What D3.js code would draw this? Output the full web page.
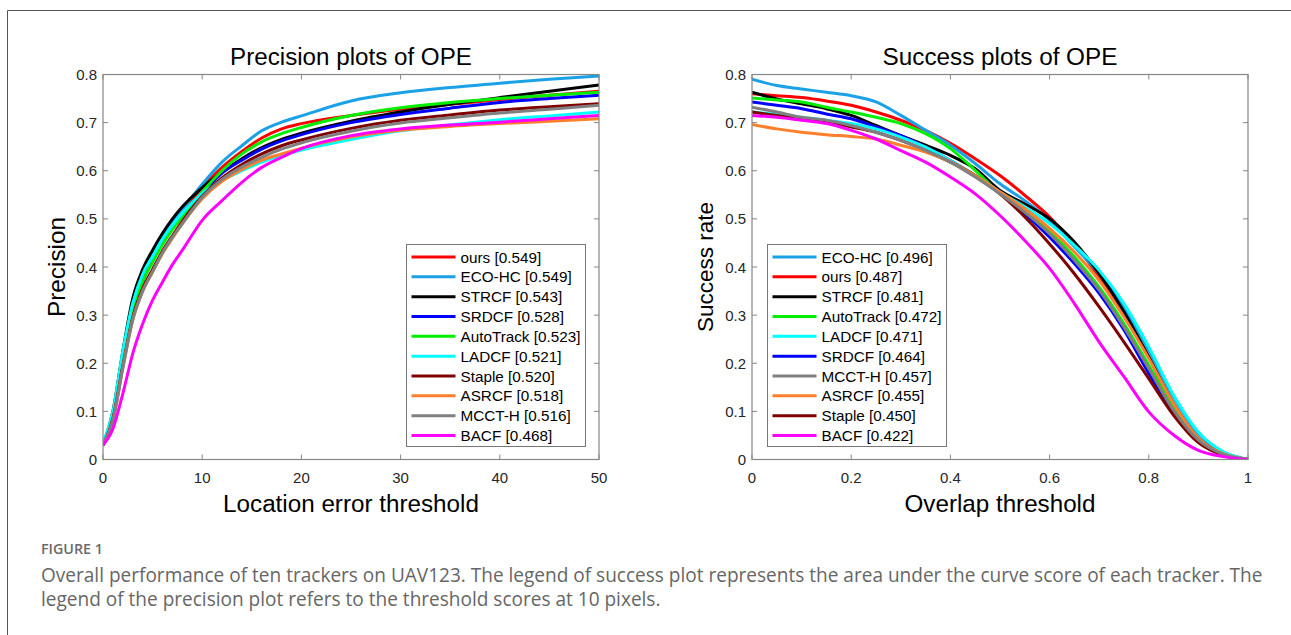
<!DOCTYPE html>
<html>
<head>
<meta charset="utf-8">
<script src="https://cdn.jsdelivr.net/npm/d3@7"></script>
<style>
  body { margin: 0; background: #fff; }
  svg { display: block; }
</style>
</head>
<body>
<div id="chart"></div>
<script>
// tracker names and colours
const trackers = ['ours', 'ECO-HC', 'STRCF', 'SRDCF', 'AutoTrack', 'LADCF', 'Staple', 'ASRCF', 'MCCT-H', 'BACF'];
const colors = ['#ff0000', '#1ba1e6', '#000000', '#0000ff', '#00ee00', '#00ffff', '#800000', '#ff7f2a', '#808080', '#ff00ff'];

// precision plot (location error threshold, px)
const precX = [0, 1, 2, 3, 4, 5, 6, 7, 8, 10, 12, 14, 16, 18, 20, 25, 30, 35, 40, 45, 50];
const precOurs   = [0.03, 0.09, 0.21, 0.32, 0.385, 0.425, 0.46, 0.49, 0.515, 0.565, 0.607, 0.640, 0.668, 0.687, 0.698, 0.715, 0.728, 0.738, 0.748, 0.757, 0.765];
const precEco    = [0.03, 0.095, 0.215, 0.325, 0.385, 0.425, 0.465, 0.495, 0.52, 0.572, 0.618, 0.652, 0.683, 0.701, 0.714, 0.745, 0.762, 0.773, 0.782, 0.790, 0.797];
const precStrcf  = [0.03, 0.10, 0.225, 0.335, 0.395, 0.435, 0.47, 0.50, 0.525, 0.565, 0.597, 0.625, 0.648, 0.665, 0.678, 0.703, 0.722, 0.738, 0.752, 0.765, 0.778];
const precSrdcf  = [0.03, 0.09, 0.205, 0.31, 0.37, 0.413, 0.45, 0.48, 0.505, 0.552, 0.595, 0.622, 0.645, 0.662, 0.675, 0.700, 0.717, 0.730, 0.742, 0.750, 0.757];
const precAuto   = [0.03, 0.088, 0.20, 0.31, 0.37, 0.41, 0.447, 0.478, 0.505, 0.556, 0.600, 0.635, 0.660, 0.677, 0.690, 0.715, 0.731, 0.742, 0.750, 0.757, 0.763];
const precLadcf  = [0.035, 0.10, 0.225, 0.325, 0.385, 0.422, 0.458, 0.487, 0.512, 0.553, 0.580, 0.600, 0.618, 0.632, 0.643, 0.665, 0.683, 0.695, 0.706, 0.714, 0.722];
const precStaple = [0.03, 0.085, 0.195, 0.295, 0.355, 0.395, 0.433, 0.465, 0.495, 0.547, 0.585, 0.613, 0.635, 0.652, 0.664, 0.688, 0.705, 0.716, 0.726, 0.733, 0.739];
const precAsrcf  = [0.03, 0.08, 0.19, 0.29, 0.35, 0.39, 0.428, 0.46, 0.49, 0.542, 0.578, 0.603, 0.622, 0.635, 0.647, 0.670, 0.684, 0.692, 0.698, 0.703, 0.708];
const precMcct   = [0.03, 0.082, 0.19, 0.29, 0.35, 0.39, 0.43, 0.462, 0.49, 0.545, 0.582, 0.608, 0.628, 0.645, 0.658, 0.682, 0.699, 0.710, 0.720, 0.728, 0.736];
const precBacf   = [0.03, 0.064, 0.137, 0.22, 0.282, 0.331, 0.369, 0.405, 0.435, 0.497, 0.538, 0.576, 0.607, 0.628, 0.646, 0.673, 0.687, 0.695, 0.701, 0.708, 0.715];
const precScores = ['0.549', '0.549', '0.543', '0.528', '0.523', '0.521', '0.520', '0.518', '0.516', '0.468'];
const precOrder = ['ours', 'ECO-HC', 'STRCF', 'SRDCF', 'AutoTrack', 'LADCF', 'Staple', 'ASRCF', 'MCCT-H', 'BACF'];

// success plot (overlap threshold)
const succX = [0, 0.05, 0.1, 0.15, 0.2, 0.25, 0.3, 0.35, 0.4, 0.45, 0.5, 0.55, 0.6, 0.65, 0.7, 0.75, 0.8, 0.85, 0.9, 0.95, 1];
const succOurs   = [0.76, 0.756, 0.752, 0.745, 0.736, 0.722, 0.705, 0.684, 0.657, 0.625, 0.59, 0.549, 0.504, 0.448, 0.379, 0.303, 0.213, 0.116, 0.044, 0.012, 0];
const succEco    = [0.79, 0.777, 0.770, 0.763, 0.756, 0.743, 0.715, 0.684, 0.653, 0.615, 0.573, 0.538, 0.497, 0.442, 0.386, 0.317, 0.227, 0.13, 0.054, 0.016, 0];
const succStrcf  = [0.763, 0.749, 0.739, 0.729, 0.715, 0.694, 0.673, 0.653, 0.632, 0.604, 0.559, 0.531, 0.500, 0.452, 0.386, 0.307, 0.213, 0.116, 0.044, 0.012, 0];
const succSrdcf  = [0.743, 0.736, 0.729, 0.718, 0.708, 0.691, 0.673, 0.649, 0.621, 0.59, 0.556, 0.511, 0.462, 0.407, 0.345, 0.269, 0.179, 0.099, 0.037, 0.010, 0];
const succAuto   = [0.751, 0.747, 0.743, 0.732, 0.722, 0.711, 0.698, 0.677, 0.646, 0.601, 0.552, 0.514, 0.473, 0.421, 0.358, 0.282, 0.196, 0.109, 0.04, 0.011, 0];
const succLadcf  = [0.722, 0.717, 0.711, 0.705, 0.698, 0.687, 0.670, 0.649, 0.621, 0.59, 0.556, 0.525, 0.49, 0.445, 0.393, 0.324, 0.234, 0.134, 0.057, 0.016, 0];
const succStaple = [0.722, 0.715, 0.708, 0.701, 0.691, 0.68, 0.663, 0.642, 0.618, 0.59, 0.552, 0.504, 0.448, 0.386, 0.317, 0.244, 0.168, 0.092, 0.035, 0.009, 0];
const succAsrcf  = [0.696, 0.687, 0.68, 0.675, 0.671, 0.666, 0.653, 0.639, 0.618, 0.59, 0.556, 0.521, 0.48, 0.431, 0.372, 0.296, 0.21, 0.116, 0.044, 0.012, 0];
const succMcct   = [0.732, 0.722, 0.711, 0.705, 0.694, 0.68, 0.663, 0.642, 0.618, 0.587, 0.552, 0.514, 0.469, 0.414, 0.352, 0.275, 0.189, 0.102, 0.04, 0.011, 0];
const succBacf   = [0.715, 0.711, 0.705, 0.698, 0.684, 0.666, 0.642, 0.618, 0.587, 0.552, 0.507, 0.455, 0.397, 0.324, 0.244, 0.172, 0.099, 0.051, 0.019, 0.006, 0];
const succScores = ['0.496', '0.487', '0.481', '0.472', '0.471', '0.464', '0.457', '0.455', '0.450', '0.422'];
const succOrder = ['ECO-HC', 'ours', 'STRCF', 'AutoTrack', 'LADCF', 'SRDCF', 'MCCT-H', 'ASRCF', 'Staple', 'BACF'];

const precTicksX = [0, 10, 20, 30, 40, 50];
const succTicksX = [0, 0.2, 0.4, 0.6, 0.8, 1];
const ticksY = [0, 0.1, 0.2, 0.3, 0.4, 0.5, 0.6, 0.7, 0.8];

const precSeries = [precOurs, precEco, precStrcf, precSrdcf, precAuto, precLadcf, precStaple, precAsrcf, precMcct, precBacf];
const succSeries = [succOurs, succEco, succStrcf, succSrdcf, succAuto, succLadcf, succStaple, succAsrcf, succMcct, succBacf];

const width = 1291;
const height = 635;
const font = "'Liberation Sans', Arial, sans-serif";

const svg = d3.select('#chart').append('svg')
  .attr('width', width)
  .attr('height', height);

svg.append('rect').attr('width', width).attr('height', height).attr('fill', '#fff');

// outer frame (open on right and bottom)
svg.append('path')
  .attr('d', `M7.5,${height} V10.5 H${width}`)
  .attr('fill', 'none')
  .attr('stroke', '#555')
  .attr('stroke-width', 1);

// scale a text's font size so it spans the given width
function fitWidth(sel, target) {
  const fs = +sel.attr('font-size');
  const w = sel.node().getComputedTextLength();
  if (w > 0) sel.attr('font-size', fs * target / w);
  return sel;
}

function drawPanel(opts) {
  const { left, right, top, bottom, xDomain, xTicks, xFmt, xs, series, title, titleW, xLabel, xLabelW, yLabel, yLabelW, yLabelX, order, scores, legend } = opts;

  const x = d3.scaleLinear().domain(xDomain).range([left, right]);
  const y = d3.scaleLinear().domain([0, 0.8]).range([bottom, top]);
  const g = svg.append('g');

  // ticks inside the box, all four sides
  const axisColor = '#868686';
  const tl = 5;
  xTicks.forEach(t => {
    g.append('line').attr('x1', x(t)).attr('x2', x(t)).attr('y1', bottom).attr('y2', bottom - tl).attr('stroke', axisColor);
    g.append('line').attr('x1', x(t)).attr('x2', x(t)).attr('y1', top).attr('y2', top + tl).attr('stroke', axisColor);
    g.append('text').attr('x', x(t)).attr('y', bottom + 23)
      .attr('text-anchor', 'middle').attr('font-family', font).attr('font-size', 15).attr('fill', '#262626')
      .text(xFmt(t));
  });
  ticksY.forEach(t => {
    g.append('line').attr('x1', left).attr('x2', left + tl).attr('y1', y(t)).attr('y2', y(t)).attr('stroke', axisColor);
    g.append('line').attr('x1', right).attr('x2', right - tl).attr('y1', y(t)).attr('y2', y(t)).attr('stroke', axisColor);
    g.append('text').attr('x', left - 6).attr('y', y(t) + 5.5)
      .attr('text-anchor', 'end').attr('font-family', font).attr('font-size', 15).attr('fill', '#262626')
      .text(t === 0 ? '0' : d3.format('.1f')(t));
  });

  // curves
  const line = d3.line()
    .x((d, i) => x(xs[i]))
    .y(d => y(d))
    .curve(d3.curveMonotoneX);

  const clipId = 'clip' + Math.round(left);
  svg.append('clipPath').attr('id', clipId)
    .append('rect').attr('x', left).attr('y', top - 2).attr('width', right - left + 2).attr('height', bottom - top + 2);

  const curves = g.append('g').attr('clip-path', `url(#${clipId})`);
  series.forEach((s, i) => {
    curves.append('path')
      .attr('d', line(s))
      .attr('fill', 'none')
      .attr('stroke', colors[i])
      .attr('stroke-width', 3)
      .attr('stroke-linejoin', 'round');
  });

  // box
  g.append('rect')
    .attr('x', left).attr('y', top).attr('width', right - left).attr('height', bottom - top)
    .attr('fill', 'none').attr('stroke', axisColor).attr('stroke-width', 1.2);

  // titles
  fitWidth(g.append('text').attr('x', (left + right) / 2).attr('y', top - 9.5)
    .attr('text-anchor', 'middle').attr('font-family', font).attr('font-size', 21).attr('fill', '#000')
    .text(title), titleW);
  fitWidth(g.append('text').attr('x', (left + right) / 2).attr('y', bottom + 52)
    .attr('text-anchor', 'middle').attr('font-family', font).attr('font-size', 21).attr('fill', '#000')
    .text(xLabel), xLabelW);
  fitWidth(g.append('text')
    .attr('transform', `translate(${yLabelX},${(top + bottom) / 2}) rotate(-90)`)
    .attr('text-anchor', 'middle').attr('font-family', font).attr('font-size', 21).attr('fill', '#000')
    .text(yLabel), yLabelW);

  // legend
  const lg = g.append('g');
  lg.append('rect')
    .attr('x', legend.x).attr('y', legend.y).attr('width', legend.w).attr('height', legend.h)
    .attr('fill', '#fff').attr('stroke', '#777').attr('stroke-width', 1);
  const rowY = d3.scalePoint().domain(order).range([legend.y + 12.5, legend.y + legend.h - 11]);
  order.forEach((name, i) => {
    const ci = trackers.indexOf(name);
    lg.append('line')
      .attr('x1', legend.x + 5).attr('x2', legend.x + 49)
      .attr('y1', rowY(name)).attr('y2', rowY(name))
      .attr('stroke', colors[ci]).attr('stroke-width', 3);
    const t = lg.append('text')
      .attr('x', legend.x + 54).attr('y', rowY(name) + 5.5)
      .attr('font-family', font).attr('font-size', 13.5).attr('fill', '#000')
      .text(`${name} [${scores[i]}]`);
    if (name === 'AutoTrack') fitWidth(t, 120);
  });
  // use the AutoTrack entry's fitted size for all entries
  const fsLeg = lg.selectAll('text').filter(function () { return this.textContent.startsWith('AutoTrack'); }).attr('font-size');
  lg.selectAll('text').attr('font-size', fsLeg);
}

drawPanel({
  left: 103, right: 599, top: 74.5, bottom: 459.5,
  xDomain: [0, 50], xTicks: precTicksX, xFmt: d3.format('d'),
  xs: precX, series: precSeries,
  title: 'Precision plots of OPE', titleW: 242,
  xLabel: 'Location error threshold', xLabelW: 256,
  yLabel: 'Precision', yLabelW: 100, yLabelX: 65,
  order: precOrder, scores: precScores,
  legend: { x: 406.5, y: 244.5, w: 179, h: 202 }
});

drawPanel({
  left: 752, right: 1248, top: 74.5, bottom: 459.5,
  xDomain: [0, 1], xTicks: succTicksX, xFmt: d => (d === 0 || d === 1) ? d3.format('d')(d) : d3.format('.1f')(d),
  xs: succX, series: succSeries,
  title: 'Success plots of OPE', titleW: 235,
  xLabel: 'Overlap threshold', xLabelW: 191,
  yLabel: 'Success rate', yLabelW: 130, yLabelX: 713,
  order: succOrder, scores: succScores,
  legend: { x: 767.5, y: 244.5, w: 179, h: 202 }
});

// caption
const capFont = "'Open Sans', 'Noto Sans', sans-serif";
fitWidth(svg.append('text').attr('x', 41).attr('y', 554)
  .attr('font-family', capFont).attr('font-size', 13).attr('font-weight', 600).attr('fill', '#6a6a6a')
  .text('FIGURE 1'), 62);
const cap1 = svg.append('text').attr('x', 41).attr('y', 582)
  .attr('font-family', capFont).attr('font-size', 16).attr('fill', '#666')
  .text('Overall performance of ten trackers on UAV123. The legend of success plot represents the area under the curve score of each tracker. The');
const cap2 = svg.append('text').attr('x', 41).attr('y', 606)
  .attr('font-family', capFont).attr('font-size', 16).attr('fill', '#666')
  .text('legend of the precision plot refers to the threshold scores at 10 pixels.');
fitWidth(cap1, 1222);
cap2.attr('font-size', cap1.attr('font-size'));
</script>
</body>
</html>
